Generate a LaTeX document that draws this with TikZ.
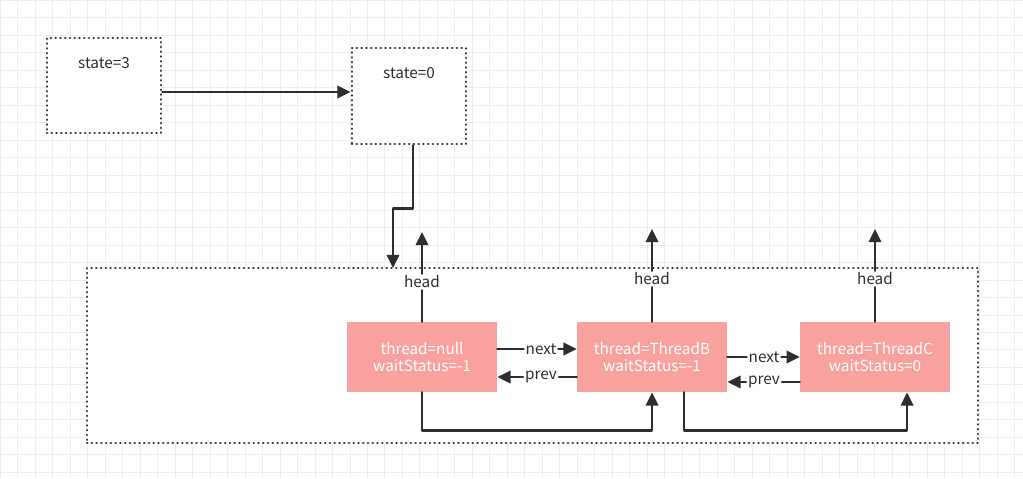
\documentclass[tikz,border=0pt]{standalone}
\usepackage{fontspec}
\setmainfont{Noto Sans CJK SC}
\usepackage{xcolor}
\usetikzlibrary{arrows.meta, calc, positioning}
\definecolor{ink}{HTML}{2E2E2E}
\definecolor{nodered}{HTML}{F9A19F}
\definecolor{gridgray}{HTML}{EEEEEE}

\begin{document}
\begin{tikzpicture}[x=0.02cm, y=-0.02cm, line cap=round, line join=round,
	font=\fontsize{8.7}{10}\selectfont,
	arr/.style={draw=ink, line width=1.4pt, -{Triangle[length=7.5pt, width=7pt]}},
	ln/.style={draw=ink, line width=1.4pt},
	dotbox/.style={draw=ink, line width=1.6pt, dash pattern=on 0.01pt off 2.7pt, line cap=round},
	qnode/.style={fill=nodered, text=white, align=center, minimum width=3cm, minimum height=1.4cm, inner sep=0pt},
	lbl/.style={text=ink, fill=white, inner sep=1pt}]
				\useasboundingbox (0,0) rectangle (1023,479);
				\fill[white] (0,0) rectangle (1023,479);
				\draw[gridgray, line width=0.5pt, step=0.35cm] (0,0) grid (1023,479);
				\node[dotbox, fill=white, minimum width=2.28cm, minimum height=1.9cm] (s3) at (104,85.5) {};
				\node[text=ink, below=0.3cm] (s3t) at (s3.north) {state=3};
				\node[dotbox, fill=white, minimum width=2.28cm, minimum height=1.92cm] (s0) at (409,96) {};
				\node[text=ink, below=0.3cm] (s0t) at (s0.north) {state=0};
				\node[dotbox, fill=white, minimum width=17.82cm, minimum height=3.5cm] (q) at (532.5,355.5) {};
				\coordinate (drop) at (393,268);
				\draw[arr] ([yshift=-0.13cm]s3.east) -- ([yshift=-0.13cm]s3.east -| s0.west);
				\draw[arr] ([xshift=0.08cm]s0.south) -- ++(0,63) -| (drop);
				\node[qnode] (a) at (422,357) {thread=null\\waitStatus=-1};
				\node[qnode] (b) at (652,357) {thread=ThreadB\\waitStatus=-1};
				\node[qnode] (c) at (875,357) {thread=ThreadC\\waitStatus=0};
				\node[lbl] (ha) at (a.north |- 0,282) {head};
				\node[lbl] (hb) at (b.north |- 0,279) {head};
				\node[lbl] (hc) at (c.north |- 0,279) {head};
				\draw[ln] (a.north) -- (ha.south);
				\draw[ln] (b.north) -- (hb.south);
				\draw[ln] (c.north) -- (hc.south);
				\draw[arr] (ha.north) -- (ha.north |- 0,232);
				\draw[arr] (hb.north) -- (hb.north |- 0,229);
				\draw[arr] (hc.north) -- (hc.north |- 0,229);
				\node[lbl] (n1) at (541,349) {next};
				\node[lbl] (p1) at (541,377) {prev};
				\node[lbl] (n2) at (764,357) {next};
				\node[lbl] (p2) at (764,382) {prev};
				\draw[ln] (a.east |- n1) -- (n1.west);
				\draw[arr] (n1.east) -- (b.west |- n1);
				\draw[ln] (b.west |- p1) -- (p1.east);
				\draw[arr] (p1.west) -- (a.east |- p1);
				\draw[ln] (b.east |- n2) -- (n2.west);
				\draw[arr] (n2.east) -- (c.west |- n2);
				\draw[ln] (c.west |- p2) -- (p2.east);
				\draw[arr] (p2.west) -- (b.east |- p2);
				\draw[arr] (a.south) -- ++(0,38) -| (b.south);
				\draw[arr] ([xshift=0.64cm]b.south) -- ++(0,38) -| ([xshift=0.64cm]c.south);
			\end{tikzpicture}
\end{document}
